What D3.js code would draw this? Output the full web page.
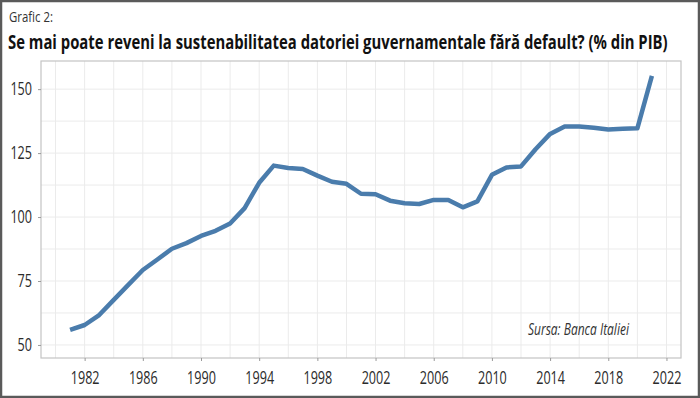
<!DOCTYPE html>
<html>
<head>
<meta charset="utf-8">
<script src="https://cdn.jsdelivr.net/npm/d3@7"></script>
<style>
body { margin: 0; background: #fff; }
svg { display: block; }
</style>
</head>
<body>
<svg id="svg0" width="700" height="398"></svg>
<script>

var width = 700;
var height = 398;

// datele
var years = [1981, 1982, 1983, 1984, 1985, 1986, 1987, 1988, 1989, 1990,
    1991, 1992, 1993, 1994, 1995, 1996, 1997, 1998, 1999, 2000,
    2001, 2002, 2003, 2004, 2005, 2006, 2007, 2008, 2009, 2010,
    2011, 2012, 2013, 2014, 2015, 2016, 2017, 2018, 2019, 2020, 2021];
var debt = [55.9, 57.8, 61.7, 67.6, 73.5, 79.3, 83.4, 87.6, 89.8, 92.6,
    94.6, 97.5, 103.5, 113.4, 120.1, 119.2, 118.8, 116.2, 113.8, 113.0,
    109.1, 108.9, 106.4, 105.4, 105.1, 106.7, 106.7, 103.8, 106.1, 116.5,
    119.4, 119.8, 126.5, 132.5, 135.4, 135.4, 134.9, 134.2, 134.5, 134.7, 155.2];
var yTicks = [50, 75, 100, 125, 150];
var xTicks = [1982, 1986, 1990, 1994, 1998, 2002, 2006, 2010, 2014, 2018, 2022];

var titleSmall = 'Grafic 2:';
var title = 'Se mai poate reveni la sustenabilitatea datoriei guvernamentale fără default? (% din PIB)';
var source = 'Sursa: Banca Italiei';

var panelLeft = 41;
var panelRight = 681;
var panelTop = 61;
var panelBottom = 358;

var font = '"Open Sans", "Noto Sans", sans-serif';

var x = d3.scaleLinear().domain([1979, 2023]).range([panelLeft, panelRight]);
var y = d3.scaleLinear().domain([44.9, 161]).range([panelBottom, panelTop]);

// face textul mai ingust, ca un font condensed
function squeeze(sel, k) {
    sel.each(function() {
        var w = this.getComputedTextLength();
        d3.select(this)
            .attr('textLength', w * k)
            .attr('lengthAdjust', 'spacingAndGlyphs');
    });
}

// text pus la x,y si strans pe orizontala pana la latimea w
function label(g, px, py, w, txt) {
    var t = g.append('g');
    var el = t.append('text').text(txt);
    return { g: t, el: el, fit: function() {
        var nat = el.node().getComputedTextLength();
        t.attr('transform', 'translate(' + px + ',' + py + ') scale(' + (w / nat) + ',1)');
    } };
}

var svg0 = d3.select('#svg0');

svg0.append('rect')
    .attr('width', width)
    .attr('height', height)
    .attr('fill', '#fff');

// grila
svg0.append('g')
    .selectAll('line')
    .data(d3.range(1980, 2023, 2))
    .join('line')
    .attr('x1', d => x(d))
    .attr('x2', d => x(d))
    .attr('y1', panelTop)
    .attr('y2', panelBottom)
    .attr('stroke', '#ebebeb')
    .attr('stroke-width', 1);

svg0.append('g')
    .selectAll('line')
    .data(d3.range(50, 161, 12.5))
    .join('line')
    .attr('x1', panelLeft)
    .attr('x2', panelRight)
    .attr('y1', d => y(d))
    .attr('y2', d => y(d))
    .attr('stroke', '#ebebeb')
    .attr('stroke-width', 1);

svg0.append('rect')
    .attr('x', panelLeft)
    .attr('y', panelTop)
    .attr('width', panelRight - panelLeft)
    .attr('height', panelBottom - panelTop)
    .attr('fill', 'none')
    .attr('stroke', '#c4c4c4')
    .attr('stroke-width', 1.2);

// axe
var yAxis = svg0.append('g')
    .attr('transform', 'translate(' + panelLeft + ',0)')
    .call(d3.axisLeft(y).tickValues(yTicks).tickSize(3).tickPadding(6));

var xAxis = svg0.append('g')
    .attr('transform', 'translate(0,' + panelBottom + ')')
    .call(d3.axisBottom(x).tickValues(xTicks).tickFormat(d3.format('d')).tickSize(3).tickPadding(10));

[yAxis, xAxis].forEach(function(a) {
    a.select('.domain').remove();
    a.selectAll('.tick line').attr('stroke', '#9a9a9a');
    a.selectAll('.tick text')
        .attr('fill', '#2b2b2b')
        .style('font-family', font)
        .style('font-size', '18px');
    squeeze(a.selectAll('.tick text'), 0.7);
});

// linia
var line = d3.line()
    .x((d, i) => x(years[i]))
    .y(d => y(d));

svg0.append('path')
    .datum(debt)
    .attr('d', line)
    .attr('fill', 'none')
    .attr('stroke', '#4a7cac')
    .attr('stroke-width', 4.5)
    .attr('stroke-linejoin', 'round')
    .attr('stroke-linecap', 'butt');

// texte
var t1 = label(svg0, 9, 22, 44, titleSmall);
t1.el.attr('fill', '#333')
    .style('font-family', font)
    .style('font-size', '14px');
t1.fit();

var t2 = label(svg0, 8, 49, 660, title);
t2.el.attr('fill', '#111')
    .style('font-family', font)
    .style('font-size', '19px')
    .style('font-weight', 'bold');
t2.fit();

var t3 = label(svg0, 528, 335, 101, source);
t3.el.attr('fill', '#333')
    .style('font-family', font)
    .style('font-size', '16px')
    .style('font-style', 'italic');
t3.fit();

// chenarul exterior
svg0.append('rect')
    .attr('x', 1)
    .attr('y', 1)
    .attr('width', width - 2)
    .attr('height', height - 2)
    .attr('fill', 'none')
    .attr('stroke', '#5a5a5a')
    .attr('stroke-width', 2.5);

</script>
</body>
</html>
